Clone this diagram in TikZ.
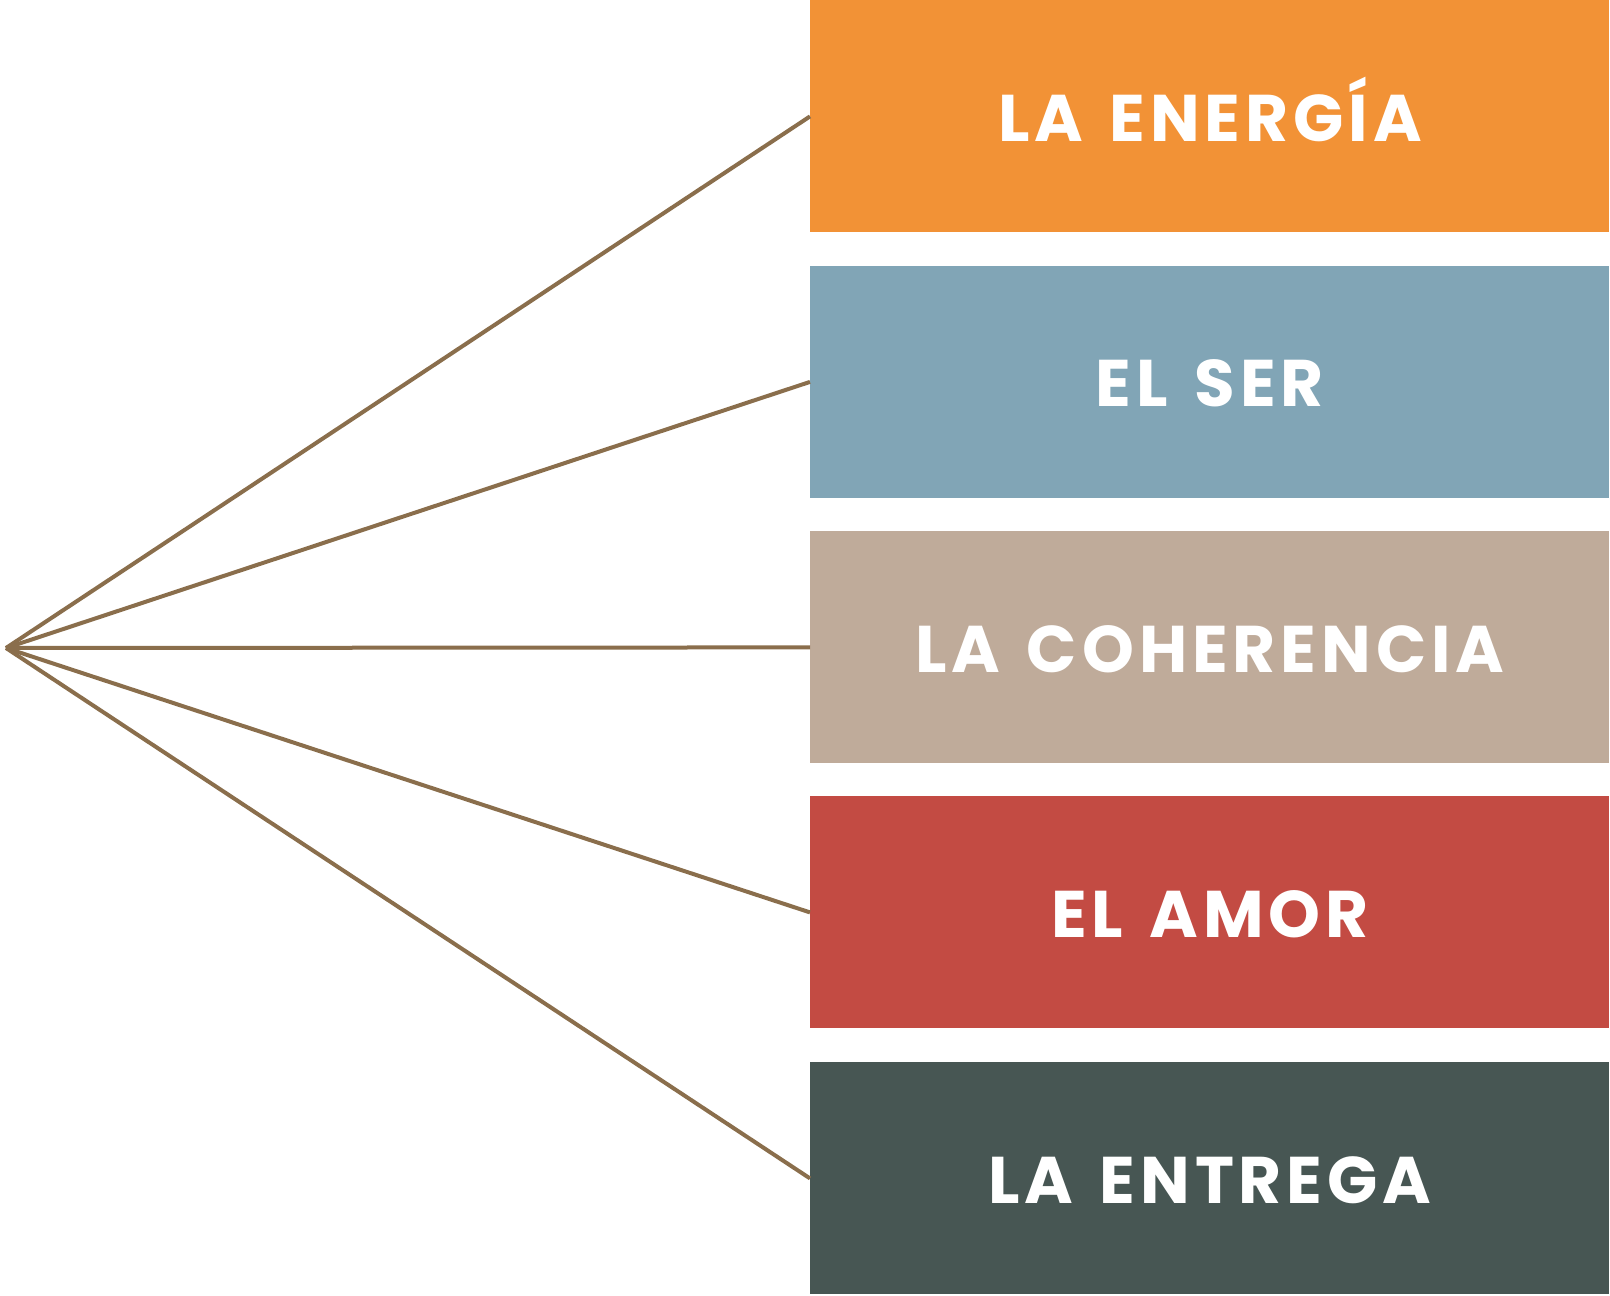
\documentclass[tikz,border=0pt]{standalone}
\usepackage{fontspec}
\newfontfamily\boxfont[LetterSpace=7.5,WordSpace=1.4]{Poppins}
\usetikzlibrary{positioning}
\definecolor{energia}{HTML}{F29236}
\definecolor{ser}{HTML}{81A5B6}
\definecolor{coherencia}{HTML}{BFAB9A}
\definecolor{amor}{HTML}{C34B43}
\definecolor{entrega}{HTML}{475653}
\definecolor{fan}{HTML}{8A6E4C}
\begin{document}
\begin{tikzpicture}[x=0.5pt,y=-0.5pt,
    box node/.style={rectangle,anchor=north west,inner sep=0pt,minimum width=399.5pt,minimum height=116pt,
      text=white,font=\boxfont\bfseries\fontsize{33}{33}\selectfont,text height=25pt,text depth=0pt}]
    \useasboundingbox (0,0) rectangle (1610,1295);
    \begin{scope}
      \node[box node,fill=energia] (en) at (810,0) {LA ENERGÍA};
      \node[box node,fill=ser] (se) at (810,265.5) {EL SER};
      \node[box node,fill=coherencia] (co) at (810,531) {LA COHERENCIA};
      \node[box node,fill=amor] (am) at (810,796) {EL AMOR};
      \node[box node,fill=entrega] (ent) at (810,1062) {LA ENTREGA};
      \coordinate (p) at (6,648);
       \path[-,line width=2pt,draw=fan] (p) edge (en.west);
       \path[-,line width=2pt,draw=fan] (p) edge (se.west);
       \path[-,line width=2pt,draw=fan] (p) edge (co.west);
       \path[-,line width=2pt,draw=fan] (p) edge (am.west);
       \path[-,line width=2pt,draw=fan] (p) edge (ent.west);
    \end{scope}
  \end{tikzpicture}
\end{document}
